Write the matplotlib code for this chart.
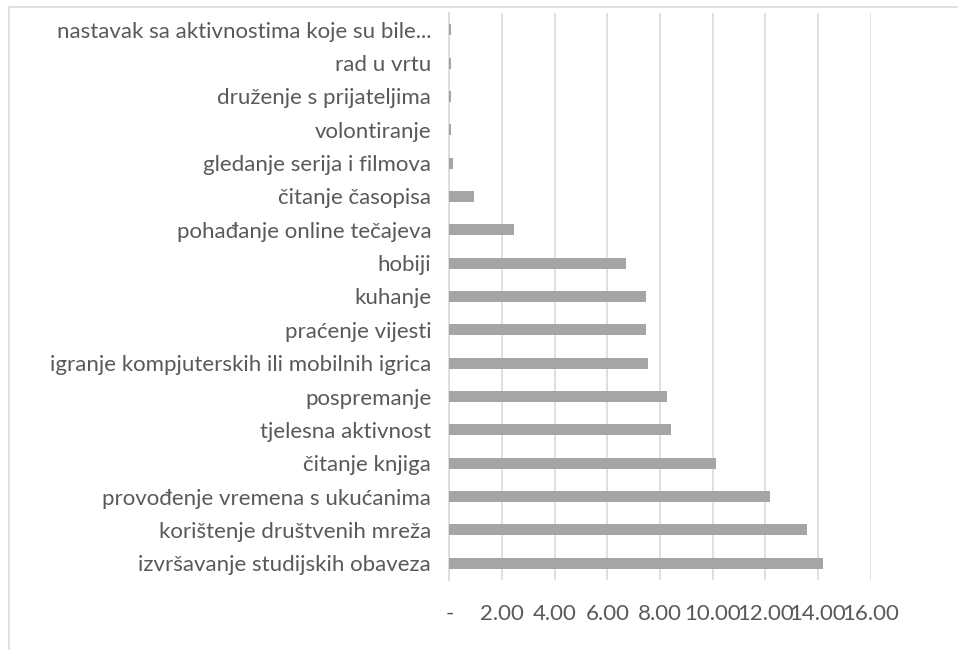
import matplotlib.pyplot as plt
from matplotlib.patches import Rectangle

# categories, top to bottom as in the picture
categories = [
    "nastavak sa aktivnostima koje su bile...",
    "rad u vrtu",
    "druženje s prijateljima",
    "volontiranje",
    "gledanje serija i filmova",
    "čitanje časopisa",
    "pohađanje online tečajeva",
    "hobiji",
    "kuhanje",
    "praćenje vijesti",
    "igranje kompjuterskih ili mobilnih igrica",
    "pospremanje",
    "tjelesna aktivnost",
    "čitanje knjiga",
    "provođenje vremena s ukućanima",
    "korištenje društvenih mreža",
    "izvršavanje studijskih obaveza",
]
values = [0.07, 0.07, 0.07, 0.07, 0.15, 0.93, 2.47, 6.72, 7.48, 7.48,
          7.55, 8.25, 8.41, 10.12, 12.16, 13.59, 14.19]
xticks = [0, 2, 4, 6, 8, 10, 12, 14, 16]
xticklabels = ["-", "2.00", "4.00", "6.00", "8.00", "10.00", "12.00", "14.00", "16.00"]

plt.rcParams['font.family'] = ['Lato', 'DejaVu Sans']

fig = plt.figure(figsize=(9.58, 6.5), dpi=100)
ax = fig.add_axes([0.469, 0.1077, 0.4399, 0.8723])

# outer chart border (runs off right and bottom)
fig.patches.append(Rectangle((9 / 958, -0.1), 1.2, 1 - 7 / 650 + 0.1,
                             transform=fig.transFigure, fill=False,
                             edgecolor="#D9D9D9", linewidth=1.2))

ypos = list(range(len(categories)))[::-1]
ax.barh(ypos, values, height=0.33, color="#A5A5A5", zorder=3)

ax.set_xlim(0, 16)
ax.set_ylim(-0.5, len(categories) - 0.5)
ax.set_xticks(xticks)
ax.set_xticklabels(xticklabels)
ax.set_yticks(ypos)
ax.set_yticklabels(categories)

ax.grid(axis="x", color="#D9D9D9", linewidth=1.2, zorder=0)
for s in ["top", "right", "bottom"]:
    ax.spines[s].set_visible(False)
ax.spines["left"].set_color("#D9D9D9")
ax.spines["left"].set_linewidth(1.2)

ax.tick_params(axis="y", length=0, pad=13, labelsize=16, labelcolor="#595959")
ax.tick_params(axis="x", length=0, pad=17, labelsize=16, labelcolor="#595959")

fig.savefig("out.png", dpi=100)
